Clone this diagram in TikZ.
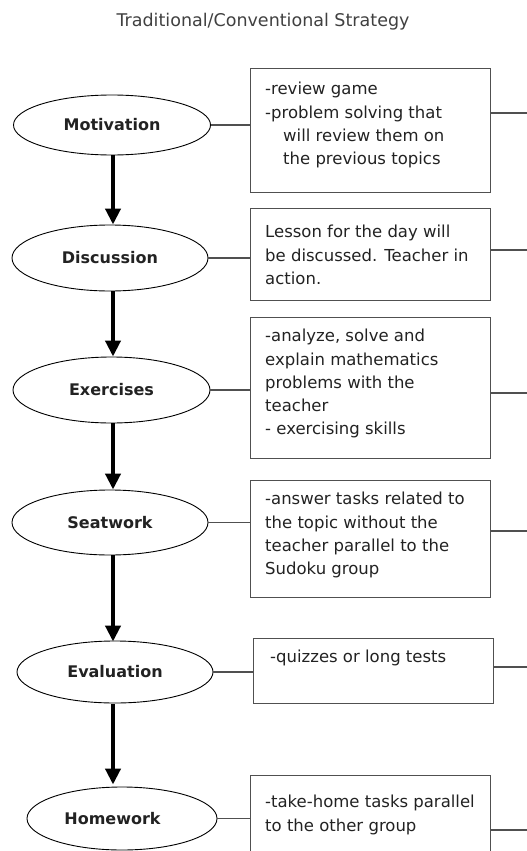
\documentclass[tikz,border=0pt]{standalone}
\usepackage{fontspec}
\setmainfont{DejaVu Sans}
\usetikzlibrary{shapes.geometric,arrows.meta}
\definecolor{boxline}{HTML}{505050}
\definecolor{txtc}{HTML}{222222}
\begin{document}
\begin{tikzpicture}[x=1pt,y=-1pt,
  stage/.style={ellipse,draw=black,line width=0.9pt,inner sep=0pt,
    font=\fontsize{16}{19}\selectfont\bfseries,text=txtc},
  infobox/.style={rectangle,draw=boxline,line width=1.4pt,anchor=north west,inner sep=0pt},
  infotext/.style={anchor=north west,inner sep=0pt,align=left,
    font=\fontsize{16.5}{23.3}\selectfont,text=txtc},
  flow/.style={line width=4.5pt,-{Triangle[width=15pt,length=16pt]}},
  link/.style={draw=boxline,line width=1.3pt}]
\useasboundingbox (0,0) rectangle (527,851);
\node[font=\fontsize{17.5}{20}\selectfont,text=black!75] (title) at (263,22) {Traditional/Conventional Strategy};

% stages
\node[stage,minimum width=197pt,minimum height=60pt] (mot) at (112,125) {Motivation};
\node[stage,minimum width=196pt,minimum height=66pt] (dis) at (110,258) {Discussion};
\node[stage,minimum width=197pt,minimum height=66pt] (exe) at (111.5,390) {Exercises};
\node[stage,minimum width=196pt,minimum height=65pt] (sea) at (110,522.5) {Seatwork};
\node[stage,minimum width=196pt,minimum height=62pt] (eva) at (115,672) {Evaluation};
\node[stage,minimum width=190pt,minimum height=63pt] (hom) at (122,818.5) {Homework\hspace*{19pt}};

% boxes
\node[infobox,minimum width=240pt,minimum height=124pt] (b1) at (250,68) {};
\node[infobox,minimum width=240pt,minimum height=92pt] (b2) at (250,208) {};
\node[infobox,minimum width=240pt,minimum height=141pt] (b3) at (250,317) {};
\node[infobox,minimum width=240pt,minimum height=117pt] (b4) at (250,480) {};
\node[infobox,minimum width=240pt,minimum height=65pt] (b5) at (253,638) {};
\node[infobox,minimum width=240pt,minimum height=80pt] (b6) at (250,775) {};

% box texts
\node[infotext] (t1) at ([shift={(15,14)}]b1.north west) {-review game\\-problem solving that\\\hspace*{18pt}will review them on\\\hspace*{18pt}the previous topics};
\node[infotext] (t2) at ([shift={(15,17)}]b2.north west) {Lesson for the day will\\be discussed. Teacher in\\action.};
\node[infotext] (t3) at ([shift={(15,12)}]b3.north west) {-analyze, solve and\\explain mathematics\\problems with the\\teacher\\- exercising skills};
\node[infotext] (t4) at ([shift={(15,12)}]b4.north west) {-answer tasks related to\\the topic without the\\teacher parallel to the\\Sudoku group};
\node[infotext] (t5) at ([shift={(17,12)}]b5.north west) {-quizzes or long tests};
\node[infotext] (t6) at ([shift={(15,20)}]b6.north west) {-take-home tasks parallel\\to the other group};

% flow arrows
\coordinate (ax) at (113,0);
\draw[flow] (mot.south -| ax) -- (dis.north -| ax);
\draw[flow] (dis.south -| ax) -- (exe.north -| ax);
\draw[flow] (exe.south -| ax) -- (sea.north -| ax);
\draw[flow] (sea.south -| ax) -- ([yshift=-1pt]eva.north -| ax);
\draw[flow] ([yshift=-1pt]eva.south -| ax) -- ([yshift=2pt]hom.north -| ax);

% left links
\draw[link] (mot.east) -- (mot.east -| b1.west);
\draw[link] (dis.east) -- (dis.east -| b2.west);
\draw[link] (exe.east) -- (exe.east -| b3.west);
\draw[link] (sea.east) -- (sea.east -| b4.west);
\draw[link] (eva.east) -- (eva.east -| b5.west);
\draw[link] (hom.east) -- (hom.east -| b6.west);

% right links
\coordinate (r1) at (527,113);
\coordinate (r2) at (527,250);
\coordinate (r3) at (527,393);
\coordinate (r4) at (527,531);
\coordinate (r5) at (527,667);
\coordinate (r6) at (527,830);
\draw[link] (b1.east |- r1) -- (r1);
\draw[link] (b2.east |- r2) -- (r2);
\draw[link] (b3.east |- r3) -- (r3);
\draw[link] (b4.east |- r4) -- (r4);
\draw[link] (b5.east |- r5) -- (r5);
\draw[link] (b6.east |- r6) -- (r6);
\end{tikzpicture}
\end{document}
